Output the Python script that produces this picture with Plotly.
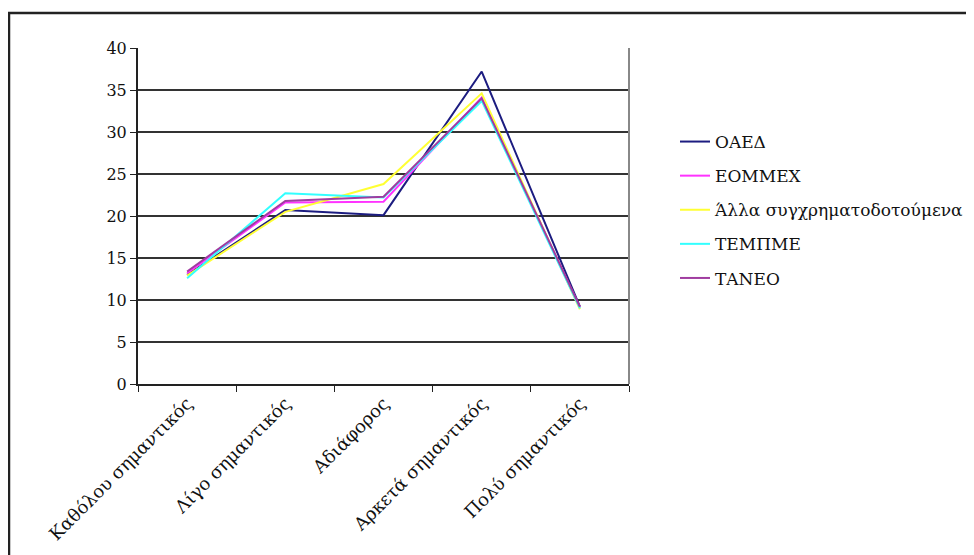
import plotly.graph_objects as go

categories = ["Καθόλου σημαντικός", "Λίγο σημαντικός", "Αδιάφορος", "Αρκετά σημαντικός", "Πολύ σημαντικός"]
series_names = ["ΟΑΕΔ", "ΕΟΜΜΕΧ", "Άλλα συγχρηματοδοτούμενα", "ΤΕΜΠΜΕ", "ΤΑΝΕΟ"]
oaed = [13.0, 20.7, 20.1, 37.2, 9.2]
eommex = [13.2, 21.6, 21.7, 34.1, 9.1]
alla = [12.9, 20.5, 23.8, 34.6, 8.9]
tempme = [12.6, 22.7, 22.2, 33.7, 9.0]
taneo = [13.4, 21.8, 22.3, 34.0, 9.2]
colors = ["#1c1c80", "#ff33ff", "#ffff33", "#33ffff", "#a03ca0"]
y_ticks = [0, 5, 10, 15, 20, 25, 30, 35, 40]

OFF = 8  # page body margin
W, H = 974 - OFF, 555 - OFF
L, R, T, B = 138 - OFF, 629 - OFF, 48 - OFF, 384 - OFF

SERIF = "DejaVu Serif"

fig = go.Figure()
for i, (name, vals, col) in enumerate(zip(series_names, [oaed, eommex, alla, tempme, taneo], colors)):
    fig.add_trace(go.Scatter(x=categories, y=vals, name=name, mode="lines", legendgroup=f"g{i}",
                             line=dict(color=col, width=2)))

fig.update_layout(
    width=W, height=H,
    margin=dict(l=L, r=W - R, t=T, b=H - B, pad=0, autoexpand=False),
    paper_bgcolor="white", plot_bgcolor="white",
    font=dict(family=SERIF, size=16, color="#111111"),
    showlegend=True,
    legend=dict(x=(675 - OFF - L) / (R - L), y=1 - (124 - OFF - T) / (B - T), xanchor="left", yanchor="top",
                font=dict(family=SERIF, size=17, color="#111111"),
                tracegroupgap=9, itemwidth=30, bgcolor="rgba(0,0,0,0)"),
    xaxis=dict(type="category", range=[-0.5, 4.5], tickangle=-45, tickson="boundaries",
               ticks="outside", ticklen=6, tickcolor="#222", showgrid=False,
               showline=True, linecolor="#222", linewidth=2, mirror=False, automargin=False,
               tickfont=dict(family=SERIF, size=18, color="#111111")),
    yaxis=dict(range=[0, 40], tickvals=y_ticks, ticks="outside", ticklen=6, tickcolor="#222",
               showgrid=True, gridcolor="#333333", gridwidth=1.5, zeroline=False,
               showline=True, linecolor="#222", linewidth=2, automargin=False,
               tickfont=dict(family=SERIF, size=16, color="#111111")),
    shapes=[
        dict(type="line", xref="paper", yref="paper", x0=1, x1=1, y0=0, y1=1,
             line=dict(color="#888888", width=2)),
        dict(type="rect", xref="paper", yref="paper",
             x0=(9 - OFF - L) / (R - L), x1=(990 - OFF - L) / (R - L),
             y0=1 - (570 - OFF - T) / (B - T), y1=1 - (13 - OFF - T) / (B - T),
             line=dict(color="#222222", width=2.5), fillcolor="rgba(0,0,0,0)"),
    ],
)

fig.write_html("out.html")
